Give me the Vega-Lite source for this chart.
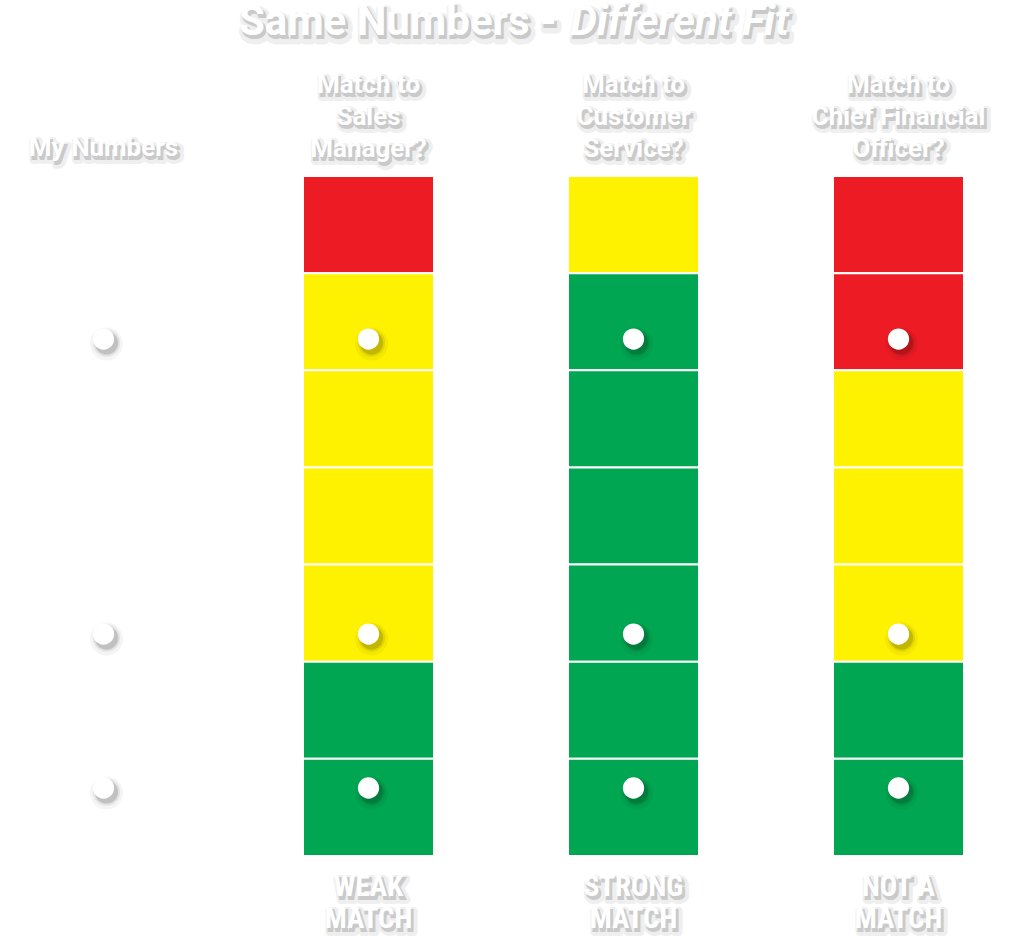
{
  "$schema": "https://vega.github.io/schema/vega-lite/v6.json",
  "width": 926,
  "height": 680,
  "autosize": {"type": "none"},
  "padding": {"left": 38, "top": 176, "right": 60, "bottom": 85},
  "background": "white",
  "config": {"view": {"stroke": null}, "text": {"font": "Roboto"}},
  "datasets": {
    "cells": [
      {"column": "Sales Manager", "from": 0, "to": 1, "level": "red"},
      {"column": "Sales Manager", "from": 1, "to": 2, "level": "yellow"},
      {"column": "Sales Manager", "from": 2, "to": 3, "level": "yellow"},
      {"column": "Sales Manager", "from": 3, "to": 4, "level": "yellow"},
      {"column": "Sales Manager", "from": 4, "to": 5, "level": "yellow"},
      {"column": "Sales Manager", "from": 5, "to": 6, "level": "green"},
      {"column": "Sales Manager", "from": 6, "to": 7, "level": "green"},
      {"column": "Customer Service", "from": 0, "to": 1, "level": "yellow"},
      {"column": "Customer Service", "from": 1, "to": 2, "level": "green"},
      {"column": "Customer Service", "from": 2, "to": 3, "level": "green"},
      {"column": "Customer Service", "from": 3, "to": 4, "level": "green"},
      {"column": "Customer Service", "from": 4, "to": 5, "level": "green"},
      {"column": "Customer Service", "from": 5, "to": 6, "level": "green"},
      {"column": "Customer Service", "from": 6, "to": 7, "level": "green"},
      {"column": "Chief Financial Officer", "from": 0, "to": 1, "level": "red"},
      {"column": "Chief Financial Officer", "from": 1, "to": 2, "level": "red"},
      {"column": "Chief Financial Officer", "from": 2, "to": 3, "level": "yellow"},
      {"column": "Chief Financial Officer", "from": 3, "to": 4, "level": "yellow"},
      {"column": "Chief Financial Officer", "from": 4, "to": 5, "level": "yellow"},
      {"column": "Chief Financial Officer", "from": 5, "to": 6, "level": "green"},
      {"column": "Chief Financial Officer", "from": 6, "to": 7, "level": "green"}
    ],
    "dots": [
      {"column": "My Numbers", "value": 1.678},
      {"column": "My Numbers", "value": 4.715},
      {"column": "My Numbers", "value": 6.3},
      {"column": "Sales Manager", "value": 1.678},
      {"column": "Sales Manager", "value": 4.715},
      {"column": "Sales Manager", "value": 6.3},
      {"column": "Customer Service", "value": 1.678},
      {"column": "Customer Service", "value": 4.715},
      {"column": "Customer Service", "value": 6.3},
      {"column": "Chief Financial Officer", "value": 1.678},
      {"column": "Chief Financial Officer", "value": 4.715},
      {"column": "Chief Financial Officer", "value": 6.3}
    ],
    "mine": [
      {"column": "My Numbers", "label": "My Numbers"}
    ],
    "headers": [
      {"column": "Sales Manager", "label": "Match to\nSales\nManager?"},
      {"column": "Customer Service", "label": "Match to\nCustomer\nService?"},
      {"column": "Chief Financial Officer", "label": "Match to\nChief Financial\nOfficer?"}
    ],
    "verdicts": [
      {"column": "Sales Manager", "label": "WEAK\nMATCH"},
      {"column": "Customer Service", "label": "STRONG\nMATCH"},
      {"column": "Chief Financial Officer", "label": "NOT A\nMATCH"}
    ]
  },
  "encoding": {
    "x": {
      "field": "column",
      "type": "nominal",
      "scale": {
        "domain": ["My Numbers", "Sales Manager", "Customer Service", "Chief Financial Officer"],
        "paddingInner": 0.50566,
        "paddingOuter": 0
      },
      "axis": null
    }
  },
  "layer": [
    {
      "data": {"name": "cells"},
      "mark": {"type": "rect", "stroke": "white", "strokeWidth": 2},
      "encoding": {
        "y": {"field": "from", "type": "quantitative", "scale": {"domain": [0, 7], "reverse": true, "nice": false, "zero": false}, "axis": null},
        "y2": {"field": "to"},
        "color": {
          "field": "level",
          "type": "nominal",
          "scale": {"domain": ["red", "yellow", "green"], "range": ["#ED1C24", "#FFF200", "#00A651"]},
          "legend": null
        }
      }
    },
    {
      "data": {"name": "dots"},
      "mark": {"type": "circle", "color": "black", "opacity": 0.04, "size": 1100, "xOffset": 3, "yOffset": 5, "clip": false},
      "encoding": {
        "y": {"field": "value", "type": "quantitative", "scale": {"domain": [0, 7], "reverse": true, "nice": false, "zero": false}, "axis": null}
      }
    },
    {
      "data": {"name": "dots"},
      "mark": {"type": "circle", "color": "black", "opacity": 0.07, "size": 750, "xOffset": 3, "yOffset": 4},
      "encoding": {
        "y": {"field": "value", "type": "quantitative", "scale": {"domain": [0, 7], "reverse": true, "nice": false, "zero": false}, "axis": null}
      }
    },
    {
      "data": {"name": "dots"},
      "mark": {"type": "circle", "color": "black", "opacity": 0.15, "size": 540, "xOffset": 3, "yOffset": 4},
      "encoding": {
        "y": {"field": "value", "type": "quantitative", "scale": {"domain": [0, 7], "reverse": true, "nice": false, "zero": false}, "axis": null}
      }
    },
    {
      "data": {"name": "dots"},
      "mark": {"type": "circle", "color": "white", "opacity": 1, "size": 452},
      "encoding": {
        "y": {"field": "value", "type": "quantitative", "scale": {"domain": [0, 7], "reverse": true, "nice": false, "zero": false}, "axis": null}
      }
    },
    {
      "data": {"name": "mine"},
      "layer": [
        {"mark": {"type": "text", "fontSize": 26, "fontWeight": "bold", "baseline": "middle", "align": "center", "color": "black", "opacity": 0.06, "stroke": "black", "strokeWidth": 8, "strokeJoin": "round", "dx": 3, "dy": 4, "clip": false}},
        {"mark": {"type": "text", "fontSize": 26, "fontWeight": "bold", "baseline": "middle", "align": "center", "color": "black", "opacity": 0.15, "stroke": "black", "strokeWidth": 2, "dx": 2, "dy": 3}},
        {"mark": {"type": "text", "fontSize": 26, "fontWeight": "bold", "baseline": "middle", "align": "center", "color": "white"}}
      ],
      "encoding": {
        "y": {"datum": -0.284, "type": "quantitative", "scale": {"domain": [0, 7], "reverse": true, "nice": false, "zero": false}},
        "text": {"field": "label"}
      }
    },
    {
      "data": {"name": "headers"},
      "layer": [
        {"mark": {"type": "text", "lineBreak": "\n", "lineHeight": 32, "fontSize": 26, "fontWeight": "bold", "baseline": "middle", "align": "center", "color": "black", "opacity": 0.06, "stroke": "black", "strokeWidth": 8, "strokeJoin": "round", "dx": 3, "dy": 4}},
        {"mark": {"type": "text", "lineBreak": "\n", "lineHeight": 32, "fontSize": 26, "fontWeight": "bold", "baseline": "middle", "align": "center", "color": "black", "opacity": 0.15, "stroke": "black", "strokeWidth": 2, "dx": 2, "dy": 3}},
        {"mark": {"type": "text", "lineBreak": "\n", "lineHeight": 32, "fontSize": 26, "fontWeight": "bold", "baseline": "middle", "align": "center", "color": "white"}}
      ],
      "encoding": {
        "y": {"datum": -0.9335, "type": "quantitative", "scale": {"domain": [0, 7], "reverse": true, "nice": false, "zero": false}},
        "text": {"field": "label"}
      }
    },
    {
      "data": {"name": "verdicts"},
      "layer": [
        {"mark": {"type": "text", "lineBreak": "\n", "lineHeight": 32, "fontSize": 29, "font": "Roboto Condensed, Liberation Sans Narrow, Roboto", "fontWeight": "bold", "baseline": "middle", "align": "center", "color": "black", "opacity": 0.06, "stroke": "black", "strokeWidth": 8, "strokeJoin": "round", "dx": 3, "dy": 4}},
        {"mark": {"type": "text", "lineBreak": "\n", "lineHeight": 32, "fontSize": 29, "font": "Roboto Condensed, Liberation Sans Narrow, Roboto", "fontWeight": "bold", "baseline": "middle", "align": "center", "color": "black", "opacity": 0.15, "stroke": "black", "strokeWidth": 2, "dx": 2, "dy": 3}},
        {"mark": {"type": "text", "lineBreak": "\n", "lineHeight": 32, "fontSize": 29, "font": "Roboto Condensed, Liberation Sans Narrow, Roboto", "fontWeight": "bold", "baseline": "middle", "align": "center", "color": "white"}}
      ],
      "encoding": {
        "y": {"datum": 7.323, "type": "quantitative", "scale": {"domain": [0, 7], "reverse": true, "nice": false, "zero": false}},
        "text": {"field": "label"}
      }
    },
    {
      "data": {"values": [{"part": "Same Numbers -"}]},
      "layer": [
        {"mark": {"type": "text", "fontSize": 42, "fontWeight": "bold", "align": "right", "baseline": "middle", "dx": -77, "color": "black", "opacity": 0.06, "stroke": "black", "strokeWidth": 9, "strokeJoin": "round", "xOffset": 3, "yOffset": 5}},
        {"mark": {"type": "text", "fontSize": 42, "fontWeight": "bold", "align": "right", "baseline": "middle", "dx": -77, "color": "black", "opacity": 0.15, "stroke": "black", "strokeWidth": 2, "xOffset": 2, "yOffset": 3}},
        {"mark": {"type": "text", "fontSize": 42, "fontWeight": "bold", "align": "right", "baseline": "middle", "dx": -77, "color": "white"}}
      ],
      "encoding": {
        "x": {"datum": "Customer Service", "type": "nominal"},
        "y": {"datum": -1.585, "type": "quantitative", "scale": {"domain": [0, 7], "reverse": true, "nice": false, "zero": false}},
        "text": {"field": "part"}
      }
    },
    {
      "data": {"values": [{"part": "Different Fit"}]},
      "layer": [
        {"mark": {"type": "text", "fontSize": 42, "fontWeight": "bold", "fontStyle": "italic", "align": "left", "baseline": "middle", "dx": -63, "color": "black", "opacity": 0.06, "stroke": "black", "strokeWidth": 9, "strokeJoin": "round", "xOffset": 3, "yOffset": 5}},
        {"mark": {"type": "text", "fontSize": 42, "fontWeight": "bold", "fontStyle": "italic", "align": "left", "baseline": "middle", "dx": -63, "color": "black", "opacity": 0.15, "stroke": "black", "strokeWidth": 2, "xOffset": 2, "yOffset": 3}},
        {"mark": {"type": "text", "fontSize": 42, "fontWeight": "bold", "fontStyle": "italic", "align": "left", "baseline": "middle", "dx": -63, "color": "white"}}
      ],
      "encoding": {
        "x": {"datum": "Customer Service", "type": "nominal"},
        "y": {"datum": -1.585, "type": "quantitative", "scale": {"domain": [0, 7], "reverse": true, "nice": false, "zero": false}},
        "text": {"field": "part"}
      }
    }
  ]
}
